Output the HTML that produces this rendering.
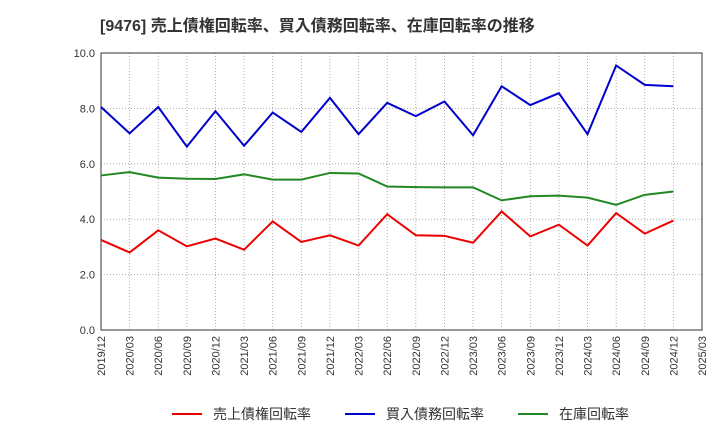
<!DOCTYPE html>
<html><head><meta charset="utf-8"><style>
body{margin:0;background:#fff;}
svg text{font-family:"Liberation Sans","Noto Sans CJK JP",sans-serif;}
</style></head><body>
<svg id="c" width="720" height="440" xmlns="http://www.w3.org/2000/svg">
<text x="100" y="31" font-size="16" font-weight="bold" fill="#333">[9476]  売上債権回転率、買入債務回転率、在庫回転率の推移</text>
<g id="grid"></g><g id="axes"></g><g id="series"></g>
<g>
<line x1="172" y1="414" x2="202" y2="414" stroke="#e00" stroke-width="2"/>
<text x="213" y="419" font-size="14" fill="#333">売上債権回転率</text>
<line x1="345" y1="414" x2="375" y2="414" stroke="#00c" stroke-width="2"/>
<text x="386" y="419" font-size="14" fill="#333">買入債務回転率</text>
<line x1="518" y1="414" x2="548" y2="414" stroke="#282" stroke-width="2"/>
<text x="559" y="419" font-size="14" fill="#333">在庫回転率</text>
</g>
</svg>
<script>
const xLabels=["2019/12","2020/03","2020/06","2020/09","2020/12","2021/03","2021/06","2021/09","2021/12","2022/03","2022/06","2022/09","2022/12","2023/03","2023/06","2023/09","2023/12","2024/03","2024/06","2024/09","2024/12","2025/03"];
const yTicks=[0,2,4,6,8,10];
const receivables=[3.25,2.8,3.6,3.02,3.3,2.9,3.92,3.18,3.42,3.05,4.18,3.42,3.4,3.15,4.28,3.38,3.8,3.05,4.22,3.48,3.95];
const payables=[8.05,7.1,8.05,6.62,7.9,6.65,7.85,7.15,8.38,7.07,8.2,7.72,8.25,7.03,8.8,8.12,8.55,7.07,9.55,8.85,8.8];
const inventory=[5.58,5.7,5.5,5.46,5.45,5.62,5.43,5.43,5.67,5.65,5.18,5.16,5.15,5.15,4.68,4.83,4.85,4.78,4.52,4.88,5.0];
const L=101,R=702,T=53,B=330;
const xs=i=>L+(R-L)*i/(xLabels.length-1);
const ys=v=>B-(B-T)*v/10;
const NS="http://www.w3.org/2000/svg";
function mk(tag,parent,attrs){const e=document.createElementNS(NS,tag);for(const k in attrs)e.setAttribute(k,attrs[k]);document.getElementById(parent).appendChild(e);return e;}
xLabels.forEach((lab,i)=>{
 const g=mk('line','grid',{x1:xs(i),x2:xs(i),y1:T,y2:B,stroke:'#999','stroke-dasharray':'1,2','stroke-width':0.8});
 
 
 const t=mk('text','axes',{x:0,y:0,'font-size':11,fill:'#333','text-anchor':'end',transform:`translate(${xs(i)+4},${B+6}) rotate(-90)`});
 t.textContent=lab;
 
 
});
yTicks.forEach(v=>{
 const g=mk('line','grid',{x1:L,x2:R,y1:ys(v),y2:ys(v),stroke:'#999','stroke-dasharray':'1,2','stroke-width':0.8});
 
 
 const t=mk('text','axes',{x:L-6,y:ys(v)+4,'font-size':11,fill:'#333','text-anchor':'end'});
 t.textContent=v.toFixed(1);
 
 
});
const fr=mk('rect','axes',{x:L,y:T,width:R-L,height:B-T,fill:'none',stroke:'#333','stroke-width':1});


[[receivables,'#e00','receivables-line'],[payables,'#00c','payables-line'],[inventory,'#282','inventory-line']].forEach(([d,c,n])=>{
 const p=mk('polyline','series',{points:d.map((v,i)=>xs(i)+','+ys(v)).join(' '),fill:'none',stroke:c,'stroke-width':2});
 
 
});
</script>
</body></html>
